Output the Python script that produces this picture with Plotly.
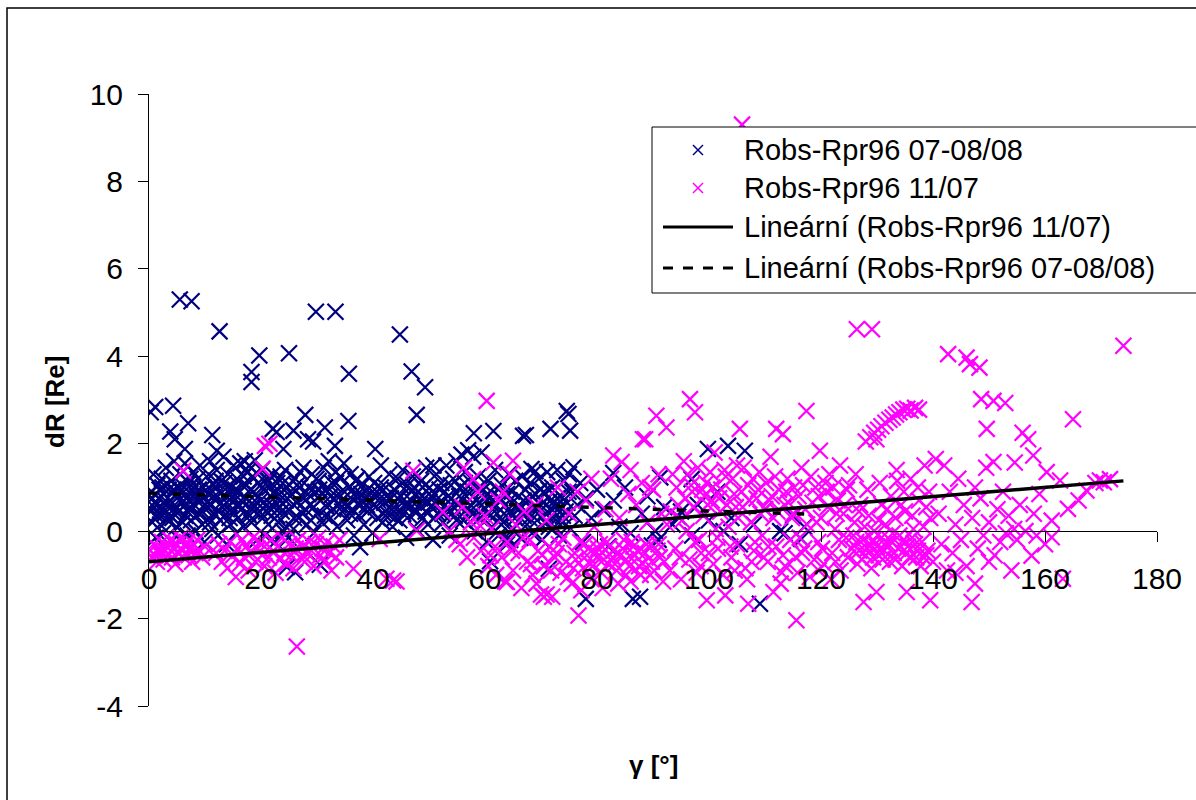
import plotly.graph_objects as go

# ---------------- data ----------------
# Robs-Rpr96 07-08/08 (navy)  -- (gamma [deg], dR [Re])
blue_points = [
    # outliers / upper points
    (0.3, 2.72), (1.1, 2.84), (4.3, 2.87), (5.5, 5.3), (7.6, 5.26), (7.0, 2.47), (3.8, 2.28), (4.6, 2.1),
    (6.4, 1.88), (11.3, 2.2), (12.1, 1.84), (12.6, 4.57), (18.3, 3.64), (18.3, 3.41), (19.7, 4.02),
    (22.1, 2.34), (22.8, 2.27), (24.0, 1.88), (25.0, 4.07), (25.8, 2.3), (27.9, 2.66), (28.4, 2.1),
    (29.3, 2.05), (29.8, 5.02), (31.4, 2.37), (33.2, 1.95), (33.3, 5.02), (35.7, 3.6), (35.6, 2.52),
    (40.4, 1.88), (44.8, 4.5), (46.9, 3.65), (47.8, 2.66), (49.3, 3.29), (50.8, 1.5), (58.0, 2.24),
    (61.5, 2.29), (66.8, 2.18), (67.3, 2.2), (71.7, 2.34), (75.2, 2.3), (74.9, 2.68), (74.6, 2.75),
    (68.3, 1.42), (75.8, 1.46), (69.0, 1.37), (82.9, 1.33), (60.9, -0.69), (71.4, -0.86), (86.4, -1.55),
    (78.0, -1.55), (99.8, 1.88), (103.4, 1.95), (106.4, 1.84), (91.3, 1.23), (96.9, 1.19), (90.4, 0.0),
    (102.6, 0.0), (112.7, 0.0), (116.5, -0.18), (109.1, -1.66), (87.7, -1.5), (89.8, -0.33), (94.5, 0.33),
    (24.6, -0.82), (26.1, -0.94), (30.5, -0.77), (37.7, -0.37), (63.9, -0.18), (64.5, -0.2),
    # main band
    (0.3, 0.45), (0.5, 0.9), (0.6, 0.2), (0.8, 1.3), (1.0, 0.65), (1.2, -0.15), (1.4, 0.35), (1.5, 1.05),
    (1.8, 0.75), (2.0, 0.15), (2.1, 0.55), (2.3, 1.2), (2.5, -0.05), (2.6, 0.85), (2.8, 0.4), (3.0, 1.45),
    (3.1, 0.6), (3.3, 0.25), (3.5, 0.95), (3.6, -0.3), (3.8, 0.7), (4.0, 1.15), (4.2, 0.3), (4.4, 0.5),
    (4.5, 1.6), (4.7, 0.8), (4.9, 0.1), (5.1, 1.0), (5.3, 0.45), (5.5, -0.2), (5.6, 1.3), (5.8, 0.65),
    (6.0, 0.2), (6.2, 0.9), (6.4, 1.55), (6.5, 0.35), (6.7, 0.75), (6.9, -0.1), (7.1, 1.1), (7.3, 0.55),
    (7.5, 0.25), (7.7, 0.95), (7.9, 1.35), (8.1, 0.6), (8.3, 0.0), (8.5, 0.8), (8.7, 1.2), (8.9, 0.4),
    (9.1, 1.5), (9.3, 0.7), (9.5, 0.15), (9.7, 1.0), (9.9, -0.25), (10.1, 0.5), (10.3, 1.25), (10.5, 0.85),
    (10.7, 0.3), (10.9, 1.6), (11.1, 0.6), (11.3, 0.05), (11.5, 1.05), (11.7, 0.4), (11.9, 0.75), (12.1, 1.4),
    (12.3, -0.1), (12.5, 0.9), (12.7, 0.25), (12.9, 1.15), (13.1, 0.55), (13.3, 1.7), (13.5, 0.35), (13.7, 0.8),
    (13.9, -0.3), (14.1, 1.3), (14.3, 0.6), (14.5, 0.15), (14.7, 1.0), (14.9, 0.45), (15.1, 1.5), (15.3, 0.7),
    (15.5, -0.05), (15.7, 1.2), (15.9, 0.3), (16.1, 0.9), (16.3, 1.55), (16.5, 0.5), (16.7, 1.05), (16.9, 0.1),
    (17.1, 1.6), (17.3, 0.75), (17.5, 1.35), (17.7, 0.4), (17.9, 1.5), (18.1, 0.95), (18.3, 0.2), (18.5, 1.25),
    (18.7, 0.6), (18.9, 1.62), (19.1, 0.85), (19.3, -0.2), (19.5, 1.1), (19.7, 0.45), (19.9, 0.7), (20.1, 1.4),
    (20.3, 0.3), (20.5, 0.95), (20.7, -0.1), (20.9, 1.2), (21.1, 0.6), (21.3, 0.15), (21.5, 1.0), (21.7, 0.8),
    (21.9, 0.35), (22.1, 1.3), (22.3, 0.55), (22.5, -0.25), (22.7, 0.9), (22.9, 1.1), (23.1, 0.2), (23.3, 0.7),
    (23.5, 1.25), (23.7, 0.45), (23.9, 0.0), (24.1, 0.95), (24.3, 1.4), (24.5, 0.1), (24.7, 0.75), (24.9, -0.15),
    (25.1, 1.05), (25.5, 0.85), (25.8, 0.05), (26.1, 1.2), (26.4, 0.65), (26.7, 0.3), (27.0, 1.35), (27.3, 0.8),
    (27.6, 1.45), (27.9, 0.5), (28.2, 0.15), (28.5, 1.0), (28.8, 0.6), (29.1, 1.3), (29.4, -0.05), (29.7, 0.9),
    (30.0, 0.4), (30.3, 1.15), (30.6, 0.7), (30.9, 0.2), (31.2, 1.45), (31.5, 0.95), (31.8, 0.55), (32.1, 1.6),
    (32.4, 0.3), (32.7, 1.1), (33.0, 0.75), (33.3, 1.35), (33.6, 0.1), (33.9, 0.85), (34.2, 1.25), (34.5, 0.45),
    (34.8, 1.55), (35.1, 0.65), (35.4, 0.25), (35.7, 1.0), (36.0, 1.3), (36.3, 0.5), (36.6, -0.1), (36.9, 0.8),
    (37.2, 1.2), (37.5, 0.35), (37.8, 0.6), (38.1, 1.05), (38.4, 0.15), (38.7, 0.9), (39.0, 0.45), (39.3, 1.25),
    (39.6, 0.7), (39.9, -0.05), (40.2, 1.1), (40.5, 0.55), (40.8, 0.3), (41.1, 0.85), (41.4, 1.5), (41.7, 0.2),
    (42.0, 0.65), (42.3, 1.0), (42.6, 0.4), (42.9, 1.3), (43.2, 0.75), (43.5, 0.1), (43.8, 0.95), (44.1, 0.5),
    (44.4, 1.2), (44.7, 0.25), (45.0, 0.8), (45.3, 1.4), (45.6, 0.6), (45.9, -0.15), (46.2, 1.05), (46.5, 0.35),
    (46.8, 0.7), (47.1, 1.25), (47.4, 0.45), (47.7, 0.05), (48.0, 0.9), (48.3, 0.6), (48.6, 1.15), (48.9, 0.3),
    (49.2, 0.75), (49.5, 1.45), (49.8, 0.15), (50.1, 1.0), (50.4, 0.55), (50.7, -0.2), (51.0, 0.85), (51.3, 1.3),
    (51.6, 0.4), (51.9, 0.65), (52.2, 1.1), (52.5, 0.2), (52.8, 0.9), (53.1, 1.5), (53.4, 0.5), (53.7, -0.1),
    (54.0, 0.75), (54.3, 1.2), (54.6, 0.35), (54.9, 1.6), (55.2, 0.6), (55.5, 1.0), (55.8, 1.75), (56.1, 0.25),
    (56.4, 1.35), (56.7, 0.8), (57.0, 1.85), (57.3, 0.45), (57.6, 1.1), (57.9, 1.7), (58.2, 0.0), (58.5, 0.7),
    (58.8, 1.25), (59.1, 0.3), (59.4, 1.8), (59.7, 0.95), (60.0, 0.5), (60.3, -0.25), (60.6, 1.15), (60.9, 0.65),
    (61.2, 0.1), (61.5, 0.85), (61.8, 1.4), (62.1, 0.4), (62.4, -0.1), (62.7, 0.75), (63.0, 1.05), (63.3, 0.2),
    (63.6, 0.6), (63.9, -0.3), (64.2, 1.3), (64.5, 0.45), (64.8, 0.9), (65.1, 0.05), (65.4, 1.15), (65.7, 0.55),
    (66.0, 0.8), (66.3, -0.15), (66.6, 1.25), (66.9, 0.35), (67.2, 0.95), (67.5, 0.15), (67.8, 0.7), (68.1, 1.1),
    (68.4, -0.05), (68.7, 0.5), (69.0, 0.85), (69.3, 0.25), (69.6, 1.2), (69.9, 0.6), (70.2, -0.2), (70.5, 0.9),
    (70.8, 0.4), (71.1, 1.35), (71.4, 0.1), (71.7, 0.7), (72.0, 1.0), (72.3, 0.3), (72.6, 0.55), (72.9, 1.4),
    (73.2, -0.1), (73.5, 0.8), (73.8, 0.2), (74.1, 1.15), (74.4, 0.45), (74.7, 0.65), (75.0, 1.3), (75.3, 0.05),
    (75.6, 0.9), (76.0, 0.35), (76.5, 0.6), (77.0, 1.1), (77.5, -0.25), (78.0, 0.75), (79.0, 0.3), (80.0, 0.95),
    (81.0, 0.5), (82.0, -0.35), (83.0, 0.7), (84.0, 0.1), (85.0, 1.0), (86.0, -0.05), (88.0, 0.4), (89.0, 0.8),
    (91.0, -0.2), (92.0, 0.55), (93.5, 0.15), (95.0, 0.45), (97.0, -0.1), (98.0, 0.6), (100.0, 0.25),
    (101.5, 0.9), (104.0, 0.3), (105.5, -0.3), (108.0, 0.15), (110.0, 0.5), (113.5, -0.05), (115.0, 0.35),
    (117.0, 0.1),
    # core of the band
    (0.9, 0.55), (1.9, 0.95), (2.9, 0.7), (3.9, 0.35), (4.9, 0.85), (5.9, 1.05), (6.9, 0.45), (7.9, 0.8),
    (8.9, 0.95), (9.9, 0.6), (10.9, 0.2), (11.9, 1.15), (12.9, 0.65), (13.9, 1.0), (14.9, 0.8), (15.9, 0.55),
    (16.9, 1.25), (17.9, 0.35), (18.9, 0.7), (19.9, 1.05), (20.9, 0.45), (21.9, 0.6), (22.9, 0.35), (23.9, 1.1),
    (24.9, 0.5), (25.9, 0.3), (26.9, 1.0), (27.9, 0.7), (28.9, 0.25), (29.9, 1.2), (30.9, 0.85), (31.9, 1.0),
    (32.9, 0.5), (33.9, 0.6), (34.9, 0.9), (35.9, 0.4), (36.9, 1.15), (37.9, 0.85), (38.9, 0.6), (39.9, 0.9),
    (40.9, 0.7), (41.9, 0.4), (42.9, 0.55), (43.9, 0.3), (44.9, 1.05), (45.9, 0.6), (46.9, 0.9), (47.9, 0.45),
    (48.9, 1.0), (49.9, 0.65), (50.9, 0.3), (51.9, 0.95), (52.9, 0.6), (53.9, 1.05), (54.9, 0.25), (55.9, 0.55),
    (56.9, 0.9), (57.9, 0.4), (58.9, 1.0), (59.9, 0.75), (60.9, 0.35), (61.9, 0.6), (62.9, 0.15), (63.9, 0.85),
    (64.9, 0.35), (65.9, 0.5), (66.9, 0.7), (67.9, 0.3), (68.9, 0.55), (69.9, 0.95), (70.9, 0.2), (71.9, 0.5),
    (72.9, 0.75), (73.9, 0.35), (74.9, 0.9),
    (0.6, 0.75), (1.6, 0.4), (2.4, 1.0), (3.4, 0.55), (4.4, 0.95), (5.4, 0.7), (6.4, 0.6), (7.4, 1.2),
    (8.4, 0.35), (9.4, 0.85), (10.4, 0.65), (11.4, 0.9), (12.4, 0.45), (13.4, 1.1), (14.4, 0.3), (15.4, 0.95),
    (16.4, 0.7), (17.4, 1.05), (18.4, 0.5), (19.4, 1.3), (20.4, 0.65), (21.4, 1.15), (22.4, 0.85), (23.4, 0.55),
    (24.4, 0.7), (26.4, 1.05), (27.4, 0.4), (28.4, 0.85), (29.4, 0.55), (30.4, 0.95), (31.4, 0.35), (32.4, 0.8),
    (33.4, 1.1), (34.4, 0.7), (35.4, 0.55), (36.4, 0.95), (37.4, 0.6), (38.4, 0.75), (39.4, 0.5), (40.4, 0.85),
    (41.4, 1.0), (42.4, 0.8), (43.4, 0.5), (44.4, 0.75), (45.4, 0.4), (46.4, 0.6), (47.4, 1.0), (48.4, 0.75),
    (49.4, 0.45), (50.4, 0.8), (51.4, 0.6), (52.4, 0.4), (53.4, 0.8), (54.4, 0.55), (55.4, 0.8), (56.4, 1.1),
    (57.4, 0.6), (58.4, 0.35), (59.4, 0.6), (60.4, 0.85), (61.4, 0.5), (62.4, 0.95), (63.4, 0.4), (64.4, 0.7),
    (65.4, 0.3), (66.4, 0.55), (67.4, 0.45), (68.4, 0.8), (69.4, 0.4), (70.4, 0.65), (71.4, 0.95), (72.4, 0.1),
    (73.4, 0.55),
]

# Robs-Rpr96 11/07 (magenta)
pink_points = [
    # x 0-35, just below zero
    (0.2, -0.45), (0.5, -0.6), (0.8, -0.3), (1.1, -0.55), (1.4, -0.7), (1.7, -0.4), (2.0, -0.5), (2.3, -0.25),
    (2.6, -0.65), (2.9, -0.45), (3.2, -0.35), (3.5, -0.55), (3.8, -0.2), (4.1, -0.6), (4.4, -0.4), (4.7, -0.75),
    (5.0, -0.3), (5.3, -0.5), (5.6, -0.15), (5.9, -0.45), (6.2, -0.6), (6.5, -0.35), (6.8, -0.25), (7.1, -0.55),
    (7.4, -0.4), (7.7, -0.7), (8.0, -0.3), (8.3, -0.5), (8.6, -0.2), (9.0, -0.45), (9.5, -0.6), (10.0, -0.35),
    (12.0, -0.5), (12.5, -0.3), (13.0, -0.7), (13.5, -0.45), (14.0, -0.85), (14.5, -0.25), (15.0, -0.55),
    (15.5, -1.05), (15.8, -0.4), (16.2, -0.75), (16.6, -0.2), (17.0, -0.6), (17.4, -0.35), (17.8, -0.9),
    (18.2, -0.5), (18.6, -0.15), (19.0, -0.7), (19.4, -0.4), (19.8, -0.25), (20.2, -0.55), (20.6, -0.8),
    (21.0, -0.3), (21.4, -0.6), (21.8, -0.2), (22.2, -0.45), (22.6, -0.95), (23.0, -0.35), (23.4, -0.65),
    (23.8, -0.15), (24.2, -0.5), (24.6, -0.75), (25.0, -0.3), (25.4, -0.55), (25.8, -0.85), (26.2, -0.4),
    (26.6, -0.2), (27.0, -0.6), (27.4, -0.35), (27.8, -0.7), (28.2, -0.5), (28.6, -0.25), (29.0, -0.45),
    (29.4, -0.8), (29.8, -0.3), (30.2, -0.15), (30.6, -0.55), (31.0, -0.4), (31.4, -0.7), (31.8, -0.25),
    (32.2, -0.5), (32.6, -0.9), (33.0, -0.35), (33.4, -0.6), (34.0, -0.2),
    # outliers x 0-60
    (6.1, 1.38), (20.7, 1.95), (21.5, 2.0), (20.3, 1.43), (26.4, -2.64), (36.5, -0.86), (42.4, -1.09),
    (43.6, -1.13), (44.2, -1.15), (41.2, -0.18), (47.2, 1.38), (52.5, 0.44), (53.7, 0.01), (54.9, -0.2),
    (47.8, 0.01), (56.2, 1.45), (60.3, 2.98), (61.5, 1.57), (59.1, 0.13), (57.9, 1.19), (63.2, 0.9),
    # x 55-92
    (55.5, -0.3), (56.0, 0.55), (56.8, -0.6), (57.5, 0.2), (58.0, -0.15), (58.7, 0.9), (59.3, -0.45),
    (60.0, 0.35), (60.6, -0.8), (61.2, 0.05), (61.8, -0.35), (62.4, 0.7), (63.0, -0.6), (63.6, -1.15),
    (64.0, -0.25), (64.5, 1.3), (65.0, -0.9), (65.5, 0.15), (66.0, -0.5), (66.5, -1.3), (67.0, 0.45),
    (67.5, -0.7), (68.0, -0.2), (68.5, -1.0), (69.0, 0.6), (69.5, -0.45), (70.0, -1.45), (70.5, -0.8),
    (71.0, 0.25), (71.5, -0.35), (72.0, -1.5), (72.5, -0.6), (73.0, 1.0), (73.5, -0.95), (74.0, -0.15),
    (74.5, -0.7), (75.0, 0.4), (75.5, -1.2), (76.0, -0.5), (76.7, -1.93), (77.0, -0.25), (77.5, -0.85),
    (78.0, 0.7), (78.5, -0.4), (79.0, -1.1), (79.5, 0.1), (80.0, -0.6), (80.5, -0.3), (81.0, -1.3),
    (81.5, 0.5), (82.0, -0.75), (82.5, 1.2), (83.0, -0.45), (83.5, -0.9), (84.0, 0.3), (84.4, 1.58),
    (84.8, -0.2), (85.2, -0.65), (85.6, 0.85), (86.0, -1.15), (86.5, -0.35), (87.0, 0.6), (87.5, -0.8),
    (88.0, 1.1), (88.2, 2.1), (88.6, -0.5), (89.0, 0.2), (89.5, -1.0), (90.0, 0.95), (90.6, 2.64),
    (91.0, -0.3), (91.5, 0.4), (92.0, -0.7), (92.4, 2.37), (82.9, 1.73), (65.0, 1.61), (70.5, -1.5),
    (71.0, -1.45), (63.9, -1.16), (88.6, 2.1),
    (70.2, -0.55), (71.8, -0.9), (73.2, -0.3), (74.8, -1.05), (76.2, -0.65), (77.8, -0.3), (78.8, -0.75),
    (79.8, -0.5), (80.8, -0.95), (81.8, -0.25), (82.8, -0.6), (83.8, -1.2), (84.6, -0.4), (85.8, -0.8),
    (86.8, -0.55), (87.8, -1.0), (88.8, -0.3), (89.8, -0.7), (90.8, -0.45), (91.8, -1.15),
    (61.0, -0.55), (62.0, -1.0), (64.8, -0.45), (66.8, -0.15), (68.2, -0.75), (69.2, -1.2), (72.8, -0.5),
    (75.8, -0.85), (77.2, -1.35), (78.2, -0.55), (79.2, -0.8), (80.2, -0.4), (81.2, -0.65), (82.2, -0.35),
    (83.2, -0.75), (84.2, -0.55), (85.2, -1.0), (86.2, -0.25), (87.2, -0.45), (88.2, -0.75), (89.2, -0.35),
    (90.2, -0.9), (91.2, -0.6), (76.5, 0.9), (79.0, 1.2), (86.0, 1.4), (89.5, 1.0), (91.0, 1.3),
    # x 92-125
    (92.5, 0.15), (93.0, -0.9), (93.5, 1.3), (94.0, -0.4), (94.5, 0.6), (95.0, -1.1), (95.5, 1.6), (96.0, 0.0),
    (96.5, -0.65), (97.0, 0.9), (97.5, 2.72), (96.6, 3.02), (97.5, -0.25), (98.0, 1.45), (98.5, -0.8),
    (99.0, 0.35), (99.5, 1.1), (99.6, -1.58), (100.0, -0.5), (100.5, 0.7), (101.0, 1.8), (101.5, -0.15),
    (102.0, 0.45), (102.5, -1.0), (102.9, -1.47), (103.0, 1.25), (103.5, 0.1), (104.0, -0.6), (104.5, 0.85),
    (105.0, 1.5), (105.5, 2.34), (105.0, -0.3), (105.9, 9.3), (106.0, 0.55), (106.5, -0.85), (107.0, -1.66),
    (107.0, 1.05), (107.5, 0.2), (108.0, -0.45), (108.5, 0.75), (109.0, 1.35), (109.5, -0.1), (110.0, 0.5),
    (110.5, -0.7), (111.0, 1.7), (111.5, -1.39), (111.5, 0.3), (112.0, 2.34), (112.0, -0.35), (112.5, 0.95),
    (113.2, 2.22), (113.0, -0.95), (113.5, 0.6), (114.0, 1.2), (114.5, -0.2), (115.0, 0.4), (115.6, -2.04),
    (115.5, -0.6), (116.0, 0.8), (116.5, 1.45), (117.0, -0.4), (117.4, 2.75), (117.5, 0.15), (118.0, -1.05),
    (118.5, 0.65), (119.0, 1.0), (119.8, 1.84), (119.5, -0.25), (120.0, 0.3), (120.5, -0.75), (121.0, 0.9),
    (121.5, 1.3), (122.0, -0.5), (122.5, 0.05), (123.0, 0.7), (123.4, 1.5), (123.5, -0.9), (124.0, 0.4),
    (124.5, -0.15), (125.0, 1.05),
    (93.2, 0.45), (94.2, 1.0), (95.2, 0.25), (96.2, 1.3), (97.2, 0.55), (98.2, -0.2), (99.2, 0.8),
    (100.2, 1.35), (101.2, 0.05), (102.2, 0.95), (103.2, 0.6), (104.2, 1.2), (105.2, 0.3), (106.2, 1.45),
    (107.2, 0.7), (108.2, -0.25), (109.2, 0.4), (110.2, 1.1), (111.2, 0.8), (112.2, 0.45), (113.2, -0.55),
    (114.2, 0.65), (115.2, 1.0), (116.2, -0.15), (117.2, 0.5), (118.2, 1.25), (119.2, 0.2), (120.2, -0.4),
    (121.2, 0.55), (122.2, 1.0), (123.2, -0.2), (124.2, 0.6), (94.8, -0.6), (97.8, -0.95), (100.8, -0.75),
    (103.8, -0.35), (106.8, -1.1), (109.8, -0.6), (112.8, -1.2), (115.8, -0.95), (118.8, -0.65),
    (121.8, -1.1), (124.8, -0.6),
    (95.8, 0.75), (96.8, 1.05), (98.8, 0.95), (99.8, 0.6), (100.6, 1.0), (101.8, 0.75), (102.8, 1.4),
    (104.8, 0.55), (105.8, 0.9), (107.8, 1.2), (108.8, 0.95), (110.8, 0.7), (111.8, 1.25), (113.8, 0.9),
    (114.8, 0.3), (116.8, 1.05), (119.6, 0.8), (120.8, 1.1), (122.8, 0.4), (124.6, 0.95), (98.6, -0.5),
    (101.6, -0.4), (104.6, -0.9), (107.6, -0.7), (110.6, -0.35), (113.6, -0.8), (116.6, -0.5), (119.6, -0.9),
    (122.6, -0.7),
    # x 125-140
    (125.5, -0.4), (126.0, 0.2), (126.4, 4.62), (126.5, -0.75), (127.0, 0.6), (127.5, -0.2), (127.6, -1.62),
    (128.0, -0.55), (128.5, 0.35), (129.0, -0.85), (129.1, 4.62), (129.5, 0.0), (129.9, -1.39), (130.0, -0.35),
    (130.5, 1.1), (131.0, -0.65), (131.5, 0.15), (132.0, -0.3), (132.5, 0.8), (133.0, -0.5), (133.5, 1.4),
    (134.0, -0.1), (134.5, -0.8), (135.0, 0.45), (135.3, -1.39), (135.5, -0.35), (136.0, 1.2), (136.5, 0.05),
    (137.0, -0.6), (137.5, 0.7), (138.0, -0.25), (138.5, 1.5), (139.0, -0.45), (139.5, 0.3), (139.5, -1.58),
    (140.0, -0.7),
    (128.0, 2.05), (128.8, 2.15), (129.5, 2.25), (130.2, 2.32), (130.8, 2.4), (131.5, 2.48), (132.2, 2.55),
    (132.8, 2.6), (133.4, 2.67), (134.0, 2.72), (134.7, 2.78), (135.4, 2.8), (136.0, 2.76), (136.8, 2.82),
    (137.5, 2.78), (129.9, 2.1),
    (125.8, -0.1), (126.8, -0.45), (127.8, 0.1), (128.8, -0.3), (129.3, -0.6), (130.3, 0.25), (130.8, -0.15),
    (131.3, -0.45), (131.8, 0.5), (132.3, -0.7), (132.8, -0.05), (133.3, 0.3), (133.8, -0.4), (134.3, 0.6),
    (134.8, -0.2), (135.8, -0.6), (136.3, 0.35), (136.8, -0.3), (137.3, 1.0), (137.8, -0.8), (138.3, 0.1),
    (138.8, -0.55), (139.3, 0.9), (126.2, 1.3), (128.3, 0.95), (133.6, 1.15),
    (126.3, -0.25), (127.3, -0.65), (128.3, -0.4), (129.3, -0.2), (130.3, -0.55), (131.3, -0.3),
    (132.3, -0.2), (133.3, -0.65), (134.3, -0.35), (135.3, -0.5), (136.3, -0.15), (137.3, -0.45),
    (138.3, -0.6), (126.8, 0.45), (130.8, 0.6), (134.8, 0.9), (138.8, 0.55),
    # x 140-175
    (140.5, 1.65), (141.0, 0.4), (141.5, -0.3), (142.0, 1.5), (142.7, 4.05), (142.5, -0.9), (143.0, 0.9),
    (143.5, -0.5), (144.0, 0.15), (144.5, 1.2), (145.0, -0.2), (145.5, 0.6), (146.0, 3.97), (146.6, 3.82),
    (146.0, -0.8), (146.9, -1.62), (147.0, 0.3), (147.5, 1.0), (148.0, -0.4), (148.3, 3.74), (148.6, 3.02),
    (148.5, 0.75), (149.0, -0.1), (149.6, 2.34), (149.5, 1.45), (150.0, 0.2), (150.8, 2.98), (150.8, 1.58),
    (151.0, -0.55), (151.5, 0.5), (152.0, -0.25), (152.9, 2.93), (152.5, 0.9), (153.0, -0.05), (153.5, 0.35),
    (154.0, -0.9), (154.6, 1.57), (154.5, 0.05), (155.0, -0.2), (155.5, 0.6), (156.0, 2.25), (156.5, 0.0),
    (157.0, 2.1), (157.6, -0.56), (157.9, 1.73), (158.0, 0.4), (158.5, -0.1), (159.0, 0.85), (160.3, 1.35),
    (160.0, -0.3), (161.2, 0.24), (161.2, -0.14), (162.7, 1.16), (163.2, -1.09), (164.1, 0.51), (165.0, 2.56),
    (166.0, 0.7), (167.4, 0.93), (169.0, 1.1), (169.8, 1.16), (170.5, 1.12), (171.6, 1.19), (174.0, 4.24),
    (147.5, -1.2), (144.0, -0.95), (150.0, -0.7),
]

# linear trend lines (end points)
trend_pink_x = [0, 174]
trend_pink_y = [-0.70, 1.15]
trend_blue_x = [0, 117]
trend_blue_y = [0.87, 0.39]

x_ticks = [0, 20, 40, 60, 80, 100, 120, 140, 160, 180]
y_ticks = [-4, -2, 0, 2, 4, 6, 8, 10]
y_tick_text = ["-4", "-2", "0", "2", "4", "6", "8", "10"]

legend_labels = ["Robs-Rpr96 07-08/08", "Robs-Rpr96 11/07",
                 "Lineární (Robs-Rpr96 11/07)", "Lineární (Robs-Rpr96 07-08/08)"]

NAVY = "#000080"
MAGENTA = "#FF00FF"
FONT = "Liberation Sans, Arial, sans-serif"

# ---------------- figure ----------------
bx, by = zip(*blue_points)
px_, py_ = zip(*pink_points)

fig = go.Figure()
fig.add_trace(go.Scatter(
    x=bx, y=by, mode="markers", name=legend_labels[0], showlegend=False,
    marker=dict(symbol="x-thin", size=16, color=NAVY, line=dict(color=NAVY, width=2.2)),
))
fig.add_trace(go.Scatter(
    x=px_, y=py_, mode="markers", name=legend_labels[1], showlegend=False,
    marker=dict(symbol="x-thin", size=16, color=MAGENTA, line=dict(color=MAGENTA, width=2.2)),
))
fig.add_trace(go.Scatter(
    x=trend_pink_x, y=trend_pink_y, mode="lines", name=legend_labels[2], showlegend=False,
    line=dict(color="black", width=3.5),
))
fig.add_trace(go.Scatter(
    x=trend_blue_x, y=trend_blue_y, mode="lines", name=legend_labels[3], showlegend=False,
    line=dict(color="black", width=3.5, dash="8px,16px"),
))

# plot-area geometry in pixels -> paper helpers
L, R, T, B = 149, 1157, 94, 706
W, H = 1196, 800
def pxx(p):
    return (p - L) / (R - L)
def pxy(p):
    return (B - p) / (B - T)

shapes = []
# outer chart border
shapes.append(dict(type="rect", xref="paper", yref="paper",
                   x0=pxx(7), x1=pxx(1210), y0=pxy(8), y1=pxy(815),
                   line=dict(color="black", width=1.5), fillcolor="rgba(0,0,0,0)", layer="below"))
# legend box
shapes.append(dict(type="rect", xref="paper", yref="paper",
                   x0=pxx(652), x1=pxx(1215), y0=pxy(127), y1=pxy(293),
                   line=dict(color="black", width=1), fillcolor="white"))
row_y = [150, 188, 227, 268]
# marker swatches (x symbols)
for yy, col in ((row_y[0], NAVY), (row_y[1], MAGENTA)):
    for sgn in (1, -1):
        shapes.append(dict(type="line", xref="paper", yref="paper",
                           x0=pxx(693), x1=pxx(703), y0=pxy(yy - 5 * sgn), y1=pxy(yy + 5 * sgn),
                           line=dict(color=col, width=1.5)))
# line swatches
shapes.append(dict(type="line", xref="paper", yref="paper",
                   x0=pxx(663), x1=pxx(733), y0=pxy(row_y[2]), y1=pxy(row_y[2]),
                   line=dict(color="black", width=3)))
shapes.append(dict(type="line", xref="paper", yref="paper",
                   x0=pxx(663), x1=pxx(733), y0=pxy(row_y[3]), y1=pxy(row_y[3]),
                   line=dict(color="black", width=3, dash="10px,10px")))

annotations = []
for yy, lab in zip(row_y, legend_labels):
    annotations.append(dict(xref="paper", yref="paper", x=pxx(742), y=pxy(yy),
                            xanchor="left", yanchor="middle", showarrow=False, text=lab,
                            font=dict(family=FONT, size=29, color="black")))
# axis titles
annotations.append(dict(xref="paper", yref="paper", x=pxx(653), y=pxy(765),
                        xanchor="center", yanchor="middle", showarrow=False,
                        text="<b>γ [°]</b>", font=dict(family=FONT, size=26, color="black")))
annotations.append(dict(xref="paper", yref="paper", x=pxx(55), y=pxy(402),
                        xanchor="center", yanchor="middle", showarrow=False, textangle=-90,
                        text="<b>dR [Re]</b>", font=dict(family=FONT, size=26, color="black")))

fig.update_layout(
    width=W, height=H, autosize=False,
    margin=dict(l=L, r=W - R, t=T, b=H - B, pad=0),
    paper_bgcolor="white", plot_bgcolor="white",
    showlegend=False,
    font=dict(family=FONT, color="black"),
    shapes=shapes, annotations=annotations,
    xaxis=dict(range=[0, 180], tickvals=x_ticks, anchor="free", position=4 / 14, side="bottom",
               showline=True, linecolor="black", linewidth=1, ticks="outside", ticklen=10,
               tickcolor="black", tickwidth=1, showgrid=False, zeroline=False,
               tickfont=dict(family=FONT, size=30, color="black"), ticklabelstandoff=11),
    yaxis=dict(range=[-4, 10], tickvals=y_ticks, ticktext=y_tick_text, showline=True,
               linecolor="black", linewidth=1,
               ticks="outside", ticklen=10, tickcolor="black", tickwidth=1, showgrid=False,
               zeroline=False, tickfont=dict(family=FONT, size=30, color="black"),
               ticklabelstandoff=9),
)

fig.write_html("out.html")
